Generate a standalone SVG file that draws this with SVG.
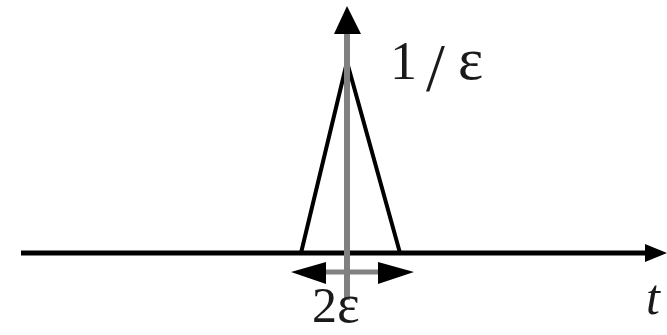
<svg xmlns="http://www.w3.org/2000/svg" width="667" height="335" viewBox="0 0 667 335">
<style>
.lbl{font-family:"Liberation Serif","DejaVu Serif",serif;fill:#1a1a1a}
.ax{stroke:#000;stroke-width:5;fill:none}
.gr{stroke:#808080;stroke-width:6;fill:none}
.tri{stroke:#000;stroke-width:4;fill:none;stroke-linejoin:miter}
</style>
<rect width="667" height="335" fill="#fff"/>
<g id="connectors">
<line class="ax" x1="21" y1="253" x2="650" y2="253"/>
<polygon points="667,253 645,244 645,262" fill="#000"/>
<polyline class="tri" points="301,253 347,62 400,253"/>
<line class="gr" x1="347" y1="30" x2="347" y2="300"/>
<polygon points="347,6 334,34 361,34" fill="#000"/>
<line class="gr" x1="315" y1="272" x2="390" y2="272" style="stroke-width:5"/>
<polygon points="291,272 326,262 326,284" fill="#000"/>
<polygon points="414,272 378,262 378,284" fill="#000"/>
</g>
<g id="label-height"><text class="lbl" y="79" font-size="54"><tspan x="390">1</tspan><tspan x="426" y="90" font-size="68">/</tspan><tspan x="458" y="79" font-size="60">ε</tspan></text></g>
<g id="label-width"><text class="lbl" x="312" y="322" font-size="50">2<tspan font-size="54">ε</tspan></text></g>
<g id="label-t"><text class="lbl" x="646" y="314" font-size="50" font-style="italic">t</text></g>
</svg>
